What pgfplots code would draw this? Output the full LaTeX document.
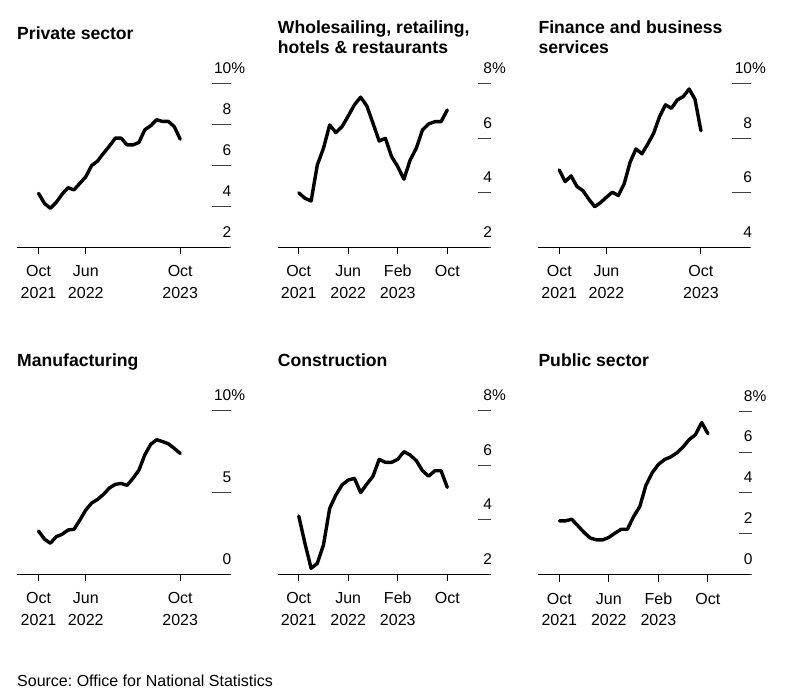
\documentclass[border=0pt]{standalone}
\usepackage{pgfplots}
\pgfplotsset{compat=1.18}
\usepackage{fontspec}
\setmainfont{Liberation Sans}
\frenchspacing

\newcommand{\sr}{\rule{0pt}{12pt}}
\pgfplotsset{
 base/.style={
  scale only axis,
  height=163.5pt,
  axis x line*=bottom, axis y line*=right,
  axis line style={draw=none},
  tick align=outside,
  clip=false,
  x tick style={line width=1pt, black, /pgfplots/major tick length=7pt},
  y tick style={line width=0.9pt, black!75},
  xticklabel style={font=\fontsize{16}{21.7}\selectfont, align=center, anchor=north, inner sep=0pt},
  yticklabel style={font=\fontsize{15.5}{18}\selectfont, anchor=base east, inner sep=0pt, yshift=10pt, xshift=1pt},
 },
 wide/.style={base, width=194.5pt, xmin=-3.65, xmax=29.3, xtick={0,8,24},
   xticklabels={\sr Oct\\2021,\sr Jun\\2022,\sr Oct\\2023}, major tick length=19pt,
   xticklabel style={yshift=1.8pt}},
 narrow/.style={base, width=200.5pt, xmin=-3.4, xmax=29, xtick={0,8,16,24},
   xticklabels={\sr Oct\\2021,\sr Jun\\2022,\sr Feb\\2023,\sr Oct}, major tick length=13pt,
   xticklabel style={yshift=-4.2pt}},
 dline/.style={black, line width=3.4pt, line join=round, line cap=round},
}
\newcommand{\baseline}[1]{\draw[line width=1.1pt, black] (rel axis cs:0,0) -- ([xshift=#1]rel axis cs:1,0);}
\newcommand{\ttl}{\fontsize{17.6}{20}\selectfont\bfseries}

\begin{document}
\begin{tikzpicture}
\useasboundingbox (0,0) rectangle (797pt,-699pt);

% Private sector
\begin{axis}[wide, at={(17pt,-247.3pt)}, anchor=south west,
  ymin=2, ymax=10, ytick={2,4,6,8,10}, yticklabels={2,4,6,8,10\rlap{\%}}]
\baseline{17.5pt}
\addplot[dline] coordinates {(0,4.64)(1,4.15)(2,3.91)(3,4.2)(4,4.6)(5,4.92)(6,4.81)(7,5.13)(8,5.45)(9,6.0)(10,6.22)(11,6.6)(12,6.95)(13,7.34)(14,7.34)(15,7.01)(16,7.01)(17,7.13)(18,7.75)(19,7.95)(20,8.24)(21,8.16)(22,8.16)(23,7.9)(24,7.29)};
\end{axis}

% Wholesale
\begin{axis}[narrow, at={(277.7pt,-247.3pt)}, anchor=south west,
  ymin=2, ymax=8, ytick={2,4,6,8}, yticklabels={2,4,6,8\rlap{\%}}]
\baseline{11pt}
\addplot[dline] coordinates {(0,4.0)(1,3.8)(2,3.7)(3,5.02)(4,5.64)(5,6.49)(6,6.21)(7,6.43)(8,6.82)(9,7.23)(10,7.51)(11,7.19)(12,6.55)(13,5.9)(14,6.0)(15,5.33)(16,4.96)(17,4.5)(18,5.2)(19,5.64)(20,6.31)(21,6.53)(22,6.61)(23,6.61)(24,7.04)};
\end{axis}

% Finance
\begin{axis}[wide, at={(537.7pt,-247.3pt)}, anchor=south west,
  ymin=4, ymax=10, ytick={4,6,8,10}, yticklabels={4,6,8,10\rlap{\%}}]
\baseline{17.5pt}
\addplot[dline] coordinates {(0,6.84)(1,6.41)(2,6.62)(3,6.23)(4,6.08)(5,5.77)(6,5.49)(7,5.64)(8,5.84)(9,6.02)(10,5.9)(11,6.33)(12,7.12)(13,7.61)(14,7.43)(15,7.79)(16,8.19)(17,8.8)(18,9.23)(19,9.1)(20,9.41)(21,9.53)(22,9.81)(23,9.43)(24,8.28)};
\end{axis}

% Manufacturing
\begin{axis}[wide, at={(17pt,-574.3pt)}, anchor=south west,
  ymin=0, ymax=10, ytick={0,5,10}, yticklabels={0,5,10\rlap{\%}}]
\baseline{17.5pt}
\addplot[dline] coordinates {(0,2.65)(1,2.15)(2,1.9)(3,2.3)(4,2.45)(5,2.71)(6,2.75)(7,3.32)(8,3.93)(9,4.36)(10,4.58)(11,4.89)(12,5.28)(13,5.5)(14,5.56)(15,5.44)(16,5.87)(17,6.37)(18,7.3)(19,7.95)(20,8.23)(21,8.12)(22,7.98)(23,7.7)(24,7.39)};
\end{axis}

% Construction
\begin{axis}[narrow, at={(277.7pt,-574.3pt)}, anchor=south west,
  ymin=2, ymax=8, ytick={2,4,6,8}, yticklabels={2,4,6,8\rlap{\%}}]
\baseline{11pt}
\addplot[dline] coordinates {(0,4.14)(1,3.14)(2,2.22)(3,2.4)(4,3.08)(5,4.42)(6,4.91)(7,5.28)(8,5.46)(9,5.52)(10,5.0)(11,5.31)(12,5.6)(13,6.22)(14,6.11)(15,6.11)(16,6.22)(17,6.5)(18,6.38)(19,6.17)(20,5.8)(21,5.6)(22,5.8)(23,5.8)(24,5.19)};
\end{axis}

% Public sector
\begin{axis}[narrow, at={(538.3pt,-574.6pt)}, anchor=south west,
  ymin=0, ymax=8, ytick={0,2,4,6,8}, yticklabels={0,2,4,6,8\rlap{\%}}]
\baseline{11pt}
\addplot[dline] coordinates {(0,2.63)(1,2.63)(2,2.71)(3,2.39)(4,2.06)(5,1.79)(6,1.70)(7,1.70)(8,1.82)(9,2.03)(10,2.22)(11,2.22)(12,2.84)(13,3.33)(14,4.38)(15,4.98)(16,5.39)(17,5.63)(18,5.76)(19,5.96)(20,6.25)(21,6.61)(22,6.85)(23,7.44)(24,6.9)};
\end{axis}

% Titles
\node[anchor=base west, inner sep=0pt, font=\ttl] at (17pt,-39.3pt) {Private sector};
\node[anchor=base west, inner sep=0pt, font=\ttl] at (277.7pt,-33.3pt) {Wholesailing, retailing,};
\node[anchor=base west, inner sep=0pt, font=\ttl] at (277.7pt,-53.3pt) {hotels \& restaurants};
\node[anchor=base west, inner sep=0pt, font=\ttl] at (538.3pt,-33.3pt) {Finance and business};
\node[anchor=base west, inner sep=0pt, font=\ttl] at (538.3pt,-53.3pt) {services};
\node[anchor=base west, inner sep=0pt, font=\ttl] at (17pt,-366pt) {Manufacturing};
\node[anchor=base west, inner sep=0pt, font=\ttl] at (277.7pt,-366pt) {Construction};
\node[anchor=base west, inner sep=0pt, font=\ttl] at (538.3pt,-366pt) {Public sector};
\node[anchor=base west, inner sep=0pt, font=\fontsize{16}{19}\selectfont] at (17pt,-686.7pt) {Source: Office for National Statistics};
\end{tikzpicture}
\end{document}
